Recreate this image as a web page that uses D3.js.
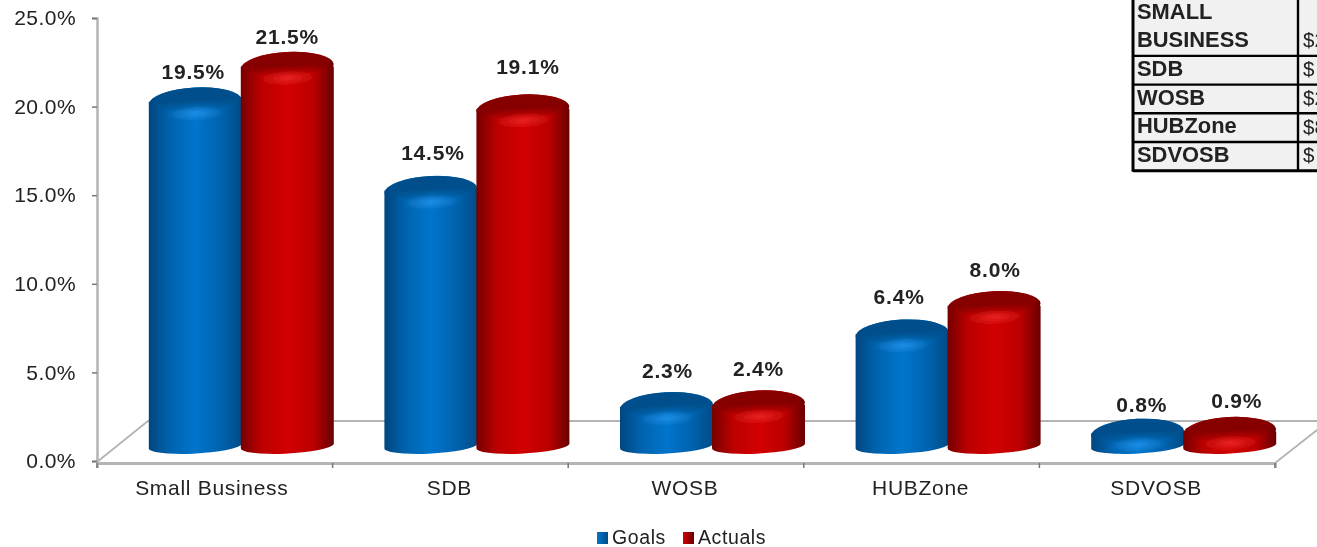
<!DOCTYPE html>
<html>
<head>
<meta charset="utf-8">
<script src="https://cdn.jsdelivr.net/npm/d3@7"></script>
<style>
html,body{margin:0;padding:0;background:#fff;overflow:hidden}
svg{display:block}
text{font-family:"Liberation Sans",Arial,sans-serif;fill:#222}
</style>
</head>
<body>
<svg id="chart" width="1317" height="547"></svg>
<script>
// data
var categories = ["Small Business","SDB","WOSB","HUBZone","SDVOSB"];
var goals = [19.5,14.5,2.3,6.4,0.8];
var actuals = [21.5,19.1,2.4,8.0,0.9];
var seriesNames = ["Goals","Actuals"];
var yTicks = [0,5,10,15,20,25];
var tableLabels = [["SMALL","BUSINESS"],["SDB"],["WOSB"],["HUBZone"],["SDVOSB"]];
var tableCells = ["$2","$","$2","$8","$"];

var svg = d3.select("#chart");
var defs = svg.append("defs");

// the source is a soft, scaled up screenshot
defs.append("filter").attr("id","soft")
  .attr("x",0).attr("y",0)
  .attr("filterUnits","userSpaceOnUse")
  .attr("width",1317).attr("height",547)
  .append("feGaussianBlur").attr("stdDeviation",0.55);

var palette = {
  Goals:{edgeL:"#00467f",mid:"#0062ad",bright:"#0075cc",edgeR:"#004c86",capTop:"#00508c",glow:"#2f9cf5"},
  Actuals:{edgeL:"#760000",mid:"#bb0000",bright:"#d20000",edgeR:"#680000",capTop:"#860000",glow:"#f53a3a"}
};

seriesNames.forEach(function(s){
  var c = palette[s];
  var side = defs.append("linearGradient").attr("id","side"+s);
  [[0,c.edgeL],[0.22,c.mid],[0.5,c.bright],[0.78,c.mid],[1,c.edgeR]].forEach(function(d){
    side.append("stop").attr("offset",d[0]).attr("stop-color",d[1]);
  });
  var cap = defs.append("linearGradient").attr("id","cap"+s).attr("x2",0).attr("y2",1);
  [[0,c.capTop,1],[0.55,c.capTop,1],[1,c.capTop,0]].forEach(function(d){
    cap.append("stop").attr("offset",d[0]).attr("stop-color",d[1]).attr("stop-opacity",d[2]);
  });
  var glow = defs.append("radialGradient").attr("id","glow"+s);
  glow.append("stop").attr("offset",0).attr("stop-color",c.glow).attr("stop-opacity",0.6);
  glow.append("stop").attr("offset",1).attr("stop-color",c.glow).attr("stop-opacity",0);
  var key = defs.append("linearGradient").attr("id","key"+s);
  key.append("stop").attr("offset",0).attr("stop-color",c.bright);
  key.append("stop").attr("offset",1).attr("stop-color",c.edgeR);
});

var root = svg.append("g").attr("filter","url(#soft)");

var axisGrey = "#b4b4b4";
var y = d3.scaleLinear().domain([0,25]).range([461,18]);
var x = d3.scaleBand().domain(categories).range([97,1275]);
var x1 = d3.scaleBand().domain(seriesNames).range([0,184]);
var depthX = 51, depthY = 40, barShift = 26;

// floor
root.append("path")
  .attr("d","M97,"+(y(0)+1)+"L"+(97+depthX)+","+(y(0)-depthY)+"L1317,"+(y(0)-depthY))
  .attr("fill","none").attr("stroke",axisGrey).attr("stroke-width",1.8);
root.append("line")
  .attr("x1",x.range()[1]).attr("y1",y(0)+2)
  .attr("x2",x.range()[1]+depthX).attr("y2",y(0)-depthY+2)
  .attr("stroke",axisGrey).attr("stroke-width",1.8);

// axes
var yAxis = d3.axisLeft(y).tickValues(yTicks).tickSize(5).tickPadding(16)
  .tickFormat(function(d){return d3.format(".1f")(d)+"%";});
var gy = root.append("g").attr("transform","translate(97,0)").call(yAxis);
gy.select(".domain").attr("stroke",axisGrey).attr("stroke-width",2.5);
gy.selectAll(".tick line").attr("stroke","#777").attr("stroke-width",1.5);
gy.selectAll("text").style("font-size","21px").style("letter-spacing","0.45px").attr("fill","#222");

var xAxis = d3.axisBottom(x).tickSize(5).tickPadding(12);
var gx = root.append("g").attr("transform","translate(0,"+(y(0)+2)+")").call(xAxis);
gx.select(".domain").attr("stroke",axisGrey).attr("stroke-width",2.8);
gx.selectAll(".tick line").attr("stroke","#777").attr("stroke-width",1.5)
  .attr("transform","translate("+(-x.step()/2)+",0)");
gx.append("line").attr("x1",x.range()[1]).attr("x2",x.range()[1]).attr("y2",5)
  .attr("stroke","#777").attr("stroke-width",1.5);
gx.selectAll("text").style("font-size","21px").style("letter-spacing","0.7px").attr("fill","#222")
  .attr("dx",function(d,i){return i===0?-3:-1;});

// cylinders
var capRy = 14.5, tilt = -3;
var rows = [];
seriesNames.forEach(function(s,si){
  var vals = si===0 ? goals : actuals;
  categories.forEach(function(c,i){ rows.push({series:s,cat:c,value:vals[i],i:i}); });
});
// draw pair by pair, actuals over goals
var bars = root.selectAll("g.bar").data(rows.slice().sort(function(a,b){return a.i-b.i;}))
  .enter().append("g").attr("class","bar");

bars.each(function(d){
  var g = d3.select(this);
  var left = x(d.cat)+x.step()/2-x1.bandwidth()+barShift+x1(d.series);
  var w = 93;
  var right = left+w, cx = left+w/2;
  var capCy = y(d.value)-capRy+1;
  var baseY = y(0);
  var turn = "rotate("+tilt+" "+cx+" "+capCy+")";
  g.append("path")
    .attr("d","M"+left+","+capCy+"L"+left+","+(baseY-13)
      +"A"+(w/2)+",7.5 "+tilt+" 0 0 "+right+","+(baseY-17)
      +"L"+right+","+capCy+"Z")
    .attr("fill","url(#side"+d.series+")");
  g.append("ellipse").attr("cx",cx).attr("cy",capCy)
    .attr("rx",w/2).attr("ry",capRy)
    .attr("transform",turn)
    .attr("fill","url(#side"+d.series+")");
  g.append("ellipse").attr("cx",cx).attr("cy",capCy-2.5)
    .attr("rx",w/2-5).attr("ry",capRy-2.5)
    .attr("transform",turn)
    .attr("fill","url(#cap"+d.series+")");
  g.append("ellipse").attr("cx",cx).attr("cy",capCy+capRy-3)
    .attr("rx",30).attr("ry",8)
    .attr("transform",turn)
    .attr("fill","url(#glow"+d.series+")");
});

// value labels, nudged as the source chart placed them
var labelDy = {Goals:[-43.5,-51,-50,-50.6,-42],Actuals:[-43,-55.5,-50,-50,-44]};
var labelDx = {Goals:[-2,2,1,-3,4],Actuals:[0,5,0,1,7]};
root.selectAll("text.value").data(rows).enter().append("text")
  .attr("class","value")
  .attr("x",function(d){
    return x(d.cat)+x.step()/2-x1.bandwidth()+barShift+x1(d.series)+46.5+labelDx[d.series][d.i];
  })
  .attr("y",function(d){return y(d.value)+labelDy[d.series][d.i];})
  .attr("dy","0.35em")
  .attr("text-anchor","middle")
  .style("font-size","21px").style("font-weight","bold").style("letter-spacing","0.8px")
  .text(function(d){return d3.format(".1f")(d.value)+"%";});

// legend
var legendX = d3.scaleOrdinal().domain(seriesNames).range([597,683]);
var legend = root.selectAll("g.key").data(seriesNames).enter().append("g").attr("class","key")
  .attr("transform",function(d){return "translate("+legendX(d)+",532)";});
legend.append("rect").attr("width",11).attr("height",12)
  .attr("fill",function(d){return "url(#key"+d+")";});
legend.append("text").attr("x",15).attr("y",5).attr("dy","0.35em")
  .style("font-size","19.5px").style("letter-spacing","0.6px")
  .text(function(d){return d;});

// table cut off at the right edge
var lineCounts = tableLabels.map(function(l){return l.length;});
var lineH = 28.7, tableTop = -1.5, tableLeft = 1133, tableDiv = 1298;
var rowTop = function(i){return tableTop+d3.sum(lineCounts.slice(0,i))*lineH;};
var table = root.append("g");
tableLabels.forEach(function(lines,i){
  var top = rowTop(i), h = lines.length*lineH;
  table.append("rect").attr("x",tableLeft).attr("y",top)
    .attr("width",1317-tableLeft).attr("height",h).attr("fill","#f1f1f1");
  lines.forEach(function(t,k){
    table.append("text").attr("x",tableLeft+4).attr("y",top+k*lineH+20)
      .style("font-size","21.9px").style("font-weight","bold").attr("fill","#000").text(t);
  });
  table.append("text").attr("x",tableDiv+5).attr("y",top+h-8.5)
    .style("font-size","20.5px").attr("fill","#222").text(tableCells[i]);
});
var ruleYs = d3.range(1,tableLabels.length+1).map(rowTop);
table.selectAll("line.rule").data(ruleYs).enter().append("line")
  .attr("x1",tableLeft).attr("x2",1317).attr("y1",function(d){return d;}).attr("y2",function(d){return d;})
  .attr("stroke","#000").attr("stroke-width",function(d,i){return i===ruleYs.length-1?3:2.4;});
table.selectAll("line.col").data([tableLeft,tableDiv]).enter().append("line")
  .attr("x1",function(d){return d;}).attr("x2",function(d){return d;})
  .attr("y1",0).attr("y2",ruleYs[ruleYs.length-1]+1)
  .attr("stroke","#000").attr("stroke-width",function(d,i){return i===0?3:2.4;});
</script>
</body>
</html>
